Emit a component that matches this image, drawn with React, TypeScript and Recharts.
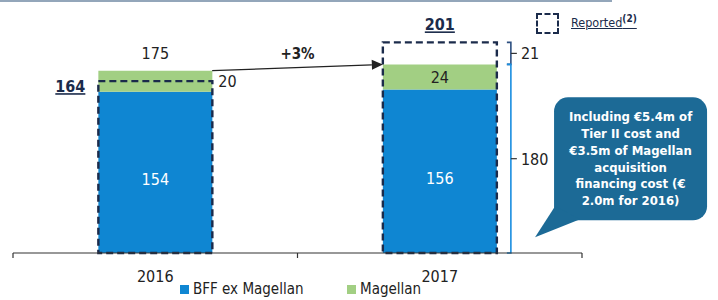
import React from 'react';
import {
  BarChart,
  Bar,
  XAxis,
  YAxis,
  LabelList,
  ReferenceLine,
  ReferenceDot,
  Legend,
} from 'recharts';

// ---------- data ----------
const categories = ['2016', '2017'];
const bffExMagellan = [154, 156];
const magellan = [20, 24];
const totalLabels = [175, 180];
const reported = [164, 201];
const growthLabel = '+3%';
const reportedGapLabel = 21;
const calloutLines = [
  'Including €5.4m of',
  'Tier II cost and',
  '€3.5m of Magellan',
  'acquisition',
  'financing cost (€',
  '2.0m for 2016)',
];
const seriesNames = { bff: 'BFF ex Magellan', mag: 'Magellan', reported: 'Reported' };
const reportedNote = '(2)';

// ---------- styles ----------
const FONT = "'DejaVu Sans Condensed', 'Liberation Sans', sans-serif";
const BLUE = '#0f86d2';
const GREEN = '#a2cf83';
const NAVY = '#1b2b4b';
const BRACKET_DARK = '#2d4f80';
const BRACKET_BLUE = '#1a8ee0';
const CALLOUT = '#1c6a96';
const TEXT = '#222';
const BAR_HALF = 0.2; // half bar width in category units (barCategoryGap 30%)

const data = categories.map((year, i) => ({
  year,
  idx: i,
  bff: bffExMagellan[i],
  mag: magellan[i],
  reported: reported[i],
}));
const stackTop = (i: number) => bffExMagellan[i] + magellan[i];

// ---------- renderers ----------
const renderTick = (props: any) => {
  const { x, y, payload } = props;
  const v = payload.value;
  if (Number.isInteger(v)) {
    return (
      <text x={x} y={y + 29} textAnchor="middle" fontSize={16} fill={TEXT} fontFamily={FONT}>
        {categories[v]}
      </text>
    );
  }
  return <line x1={x} y1={y} x2={x} y2={y + 5} stroke="#333" strokeWidth={1.2} />;
};

const bffLabel = (props: any) => {
  const { x, y, width, height, value } = props;
  return (
    <text
      x={x + width / 2}
      y={y + height / 2 + 13}
      textAnchor="middle"
      fontSize={16}
      fill="#ffffff"
      fontFamily={FONT}
    >
      {value}
    </text>
  );
};

const magLabel = (props: any) => {
  const { x, y, width, height, value, index } = props;
  const cy = y + height / 2 + 6;
  if (index === 0) {
    return (
      <g>
        <text x={x + width + 6} y={cy} textAnchor="start" fontSize={16} fill={TEXT} fontFamily={FONT}>
          {value}
        </text>
        <text x={x + width / 2} y={y - 12} textAnchor="middle" fontSize={16} fill={TEXT} fontFamily={FONT}>
          {totalLabels[index]}
        </text>
      </g>
    );
  }
  return (
    <text x={x + width / 2} y={cy} textAnchor="middle" fontSize={16} fill={TEXT} fontFamily={FONT}>
      {value}
    </text>
  );
};

const repLabel = (props: any) => {
  const { x, y, width, value, index } = props;
  if (index === 0) {
    return (
      <text
        x={x - 28}
        y={y + 11}
        textAnchor="middle"
        fontSize={16}
        fontWeight="bold"
        fill={NAVY}
        fontFamily={FONT}
        textDecoration="underline"
      >
        {value}
      </text>
    );
  }
  return (
    <text
      x={x + width / 2}
      y={y - 12}
      textAnchor="middle"
      fontSize={16}
      fontWeight="bold"
      fill={NAVY}
      fontFamily={FONT}
      textDecoration="underline"
    >
      {value}
    </text>
  );
};

const Arrow = (props: any) => {
  const { x1, y1, x2, y2 } = props;
  const dx = x2 - x1;
  const dy = y2 - y1;
  const len = Math.sqrt(dx * dx + dy * dy);
  const ux = dx / len;
  const uy = dy / len;
  const hl = 11;
  const hw = 5;
  const bx = x2 - ux * hl;
  const by = y2 - uy * hl;
  return (
    <g>
      <line x1={x1} y1={y1} x2={bx} y2={by} stroke="#222" strokeWidth={1.3} />
      <polygon
        points={`${x2},${y2} ${bx - uy * hw},${by + ux * hw} ${bx + uy * hw},${by - ux * hw}`}
        fill="#222"
      />
      <text
        x={(x1 + x2) / 2}
        y={(y1 + y2) / 2 - 9}
        textAnchor="middle"
        fontSize={15}
        fontWeight="bold"
        fill={TEXT}
        fontFamily={FONT}
      >
        {growthLabel}
      </text>
    </g>
  );
};

const makeBracket = (label: number, color: string) => (props: any) => {
  const { x1, y1, y2 } = props;
  const top = Math.min(y1, y2);
  const bot = Math.max(y1, y2);
  const mid = (top + bot) / 2;
  return (
    <g>
      <path
        d={`M${x1 - 4},${top} H${x1} V${bot} H${x1 - 4}`}
        stroke={color}
        strokeWidth={1.6}
        fill="none"
      />
      <line x1={x1} y1={mid} x2={x1 + 6} y2={mid} stroke="#333" strokeWidth={1.2} />
      <text x={x1 + 10} y={mid + 6} textAnchor="start" fontSize={16} fill={TEXT} fontFamily={FONT}>
        {label}
      </text>
    </g>
  );
};

const Callout = (props: any) => {
  const { cx, cy } = props;
  const left = cx + 19;
  const top = cy - 140;
  const w = 153;
  const h = 123;
  const r = 14;
  return (
    <g>
      <rect x={left} y={top} width={w} height={h} rx={r} ry={r} fill={CALLOUT} />
      <polygon
        points={`${cx},${cy} ${left + 1},${top + h - 14} ${left + 26},${top + h - 1}`}
        fill={CALLOUT}
      />
      {calloutLines.map((line, i) => (
        <text
          key={i}
          x={left + w / 2}
          y={top + 24 + i * 16.8}
          textAnchor="middle"
          fontSize={13}
          fontWeight="bold"
          fill="#ffffff"
          fontFamily={FONT}
        >
          {line}
        </text>
      ))}
    </g>
  );
};

const renderLegend = (props: any) => {
  const payload: any[] = props.payload || [];
  const byName = (n: string) => payload.find((p) => p.value === n) || { value: n };
  const bff = byName(seriesNames.bff);
  const mag = byName(seriesNames.mag);
  const rep = byName(seriesNames.reported);
  const item = (p: any, color: string, left: number) => (
    <div
      style={{
        position: 'absolute',
        left,
        top: 279,
        height: 20,
        display: 'flex',
        alignItems: 'center',
        whiteSpace: 'nowrap',
        fontFamily: FONT,
        fontSize: 15,
        color: TEXT,
      }}
    >
      <span style={{ display: 'inline-block', width: 9, height: 9, background: color, marginRight: 4 }} />
      <span>{p.value}</span>
    </div>
  );
  return (
    <div style={{ position: 'relative', width: 718, height: 0 }}>
      {item(bff, BLUE, 180)}
      {item(mag, GREEN, 347)}
      <div
        style={{
          position: 'absolute',
          left: 536,
          top: 13,
          width: 19,
          height: 17,
          border: `2.4px dashed ${NAVY}`,
        }}
      />
      <div
        style={{
          position: 'absolute',
          left: 571,
          top: 13,
          whiteSpace: 'nowrap',
          fontFamily: FONT,
          fontSize: 12.5,
          color: NAVY,
        }}
      >
        <span style={{ textDecoration: 'underline' }}>
          {rep.value}
          <sup style={{ fontSize: 10, fontWeight: 'bold' }}>{reportedNote}</sup>
        </span>
      </div>
    </div>
  );
};

export default function App() {
  return (
    <div style={{ position: 'absolute', left: 0, top: 0, width: 718, height: 300, background: '#fff' }}>
      <div style={{ position: 'absolute', left: 0, top: 0, width: 612, height: 2, background: '#93a6ba' }} />
      <BarChart
        width={718}
        height={300}
        data={data}
        margin={{ top: 12, right: 136, bottom: 25, left: 13 }}
        barCategoryGap="30%"
      >
        <XAxis xAxisId="cat" dataKey="year" hide height={0} />
        <XAxis xAxisId="rep" dataKey="year" hide height={0} />
        <XAxis
          xAxisId="num"
          type="number"
          dataKey="idx"
          domain={[-0.5, 1.5]}
          ticks={[-0.5, 0, 0.5, 1, 1.5]}
          interval={0}
          allowDataOverflow
          tickLine={false}
          tickSize={0}
          tickMargin={0}
          axisLine={{ stroke: '#333', strokeWidth: 1.2 }}
          tick={renderTick}
          height={22}
        />
        <YAxis hide domain={[0, 230]} />
        <Bar
          xAxisId="cat"
          dataKey="bff"
          name={seriesNames.bff}
          stackId="a"
          fill={BLUE}
          isAnimationActive={false}
        >
          <LabelList dataKey="bff" content={bffLabel} />
        </Bar>
        <Bar
          xAxisId="cat"
          dataKey="mag"
          name={seriesNames.mag}
          stackId="a"
          fill={GREEN}
          isAnimationActive={false}
        >
          <LabelList dataKey="mag" content={magLabel} />
        </Bar>
        <Bar
          xAxisId="rep"
          dataKey="reported"
          name={seriesNames.reported}
          fill="none"
          stroke={NAVY}
          strokeWidth={2.4}
          strokeDasharray="7 4"
          isAnimationActive={false}
        >
          <LabelList dataKey="reported" content={repLabel} />
        </Bar>
        <ReferenceLine
          xAxisId="num"
          segment={[
            { x: BAR_HALF, y: stackTop(0) },
            { x: 1 - BAR_HALF, y: stackTop(1) },
          ]}
          shape={Arrow}
        />
        <ReferenceLine
          xAxisId="num"
          segment={[
            { x: 1.25, y: stackTop(1) },
            { x: 1.25, y: reported[1] },
          ]}
          shape={makeBracket(reportedGapLabel, BRACKET_DARK)}
        />
        <ReferenceLine
          xAxisId="num"
          segment={[
            { x: 1.25, y: 0 },
            { x: 1.25, y: stackTop(1) },
          ]}
          shape={makeBracket(totalLabels[1], BRACKET_BLUE)}
        />
        <ReferenceDot xAxisId="num" x={1.335} y={15} r={0} shape={Callout} ifOverflow="visible" />
        <Legend
          verticalAlign="top"
          content={renderLegend}
          wrapperStyle={{ top: 0, left: 0, width: 718, height: 0 }}
        />
      </BarChart>
    </div>
  );
}
